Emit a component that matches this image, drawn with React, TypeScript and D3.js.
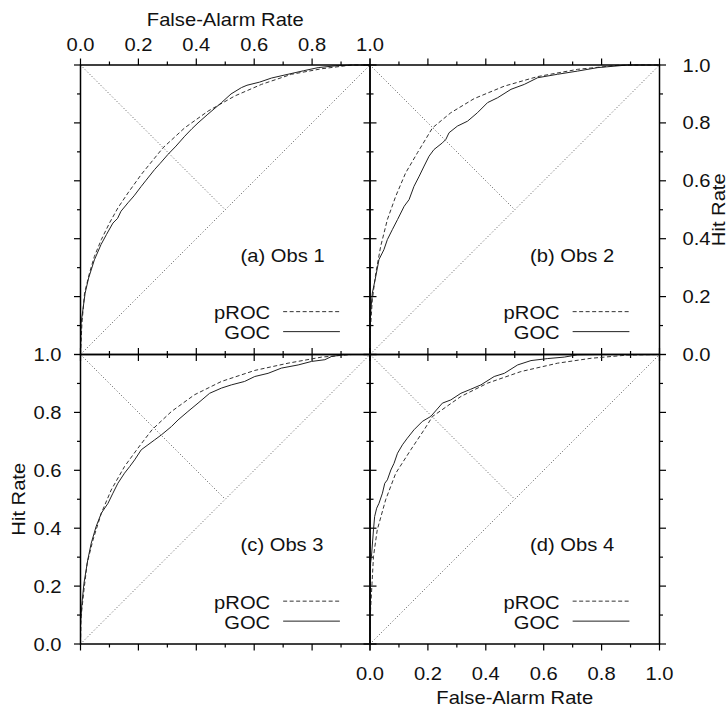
import * as d3 from "d3";

// ROC curves: [false-alarm rate, hit rate]
const procA: [number, number][] = [
  [0, 0], [0.005, 0.108], [0.014, 0.212], [0.031, 0.281], [0.048, 0.339], [0.072, 0.397],
  [0.1, 0.454], [0.129, 0.506], [0.164, 0.558], [0.21, 0.622], [0.285, 0.714], [0.36, 0.783],
  [0.441, 0.841], [0.533, 0.893], [0.625, 0.933], [0.729, 0.968], [0.833, 0.987], [0.937, 1.0], [1, 1],
];
const gocA: [number, number][] = [
  [0, 0], [0.002, 0.108], [0.016, 0.212], [0.028, 0.264], [0.048, 0.327], [0.071, 0.38],
  [0.09, 0.415], [0.112, 0.454], [0.128, 0.47], [0.14, 0.495], [0.164, 0.524], [0.185, 0.548],
  [0.21, 0.581], [0.225, 0.6], [0.256, 0.639], [0.275, 0.66], [0.302, 0.691], [0.33, 0.72],
  [0.36, 0.754], [0.385, 0.78], [0.406, 0.8], [0.44, 0.83], [0.487, 0.87], [0.52, 0.9],
  [0.556, 0.922], [0.575, 0.93], [0.619, 0.941], [0.66, 0.955], [0.717, 0.968], [0.77, 0.98],
  [0.821, 0.991], [0.88, 0.997], [0.937, 1.0], [1, 1],
];
const procB: [number, number][] = [
  [0, 0], [0.002, 0.097], [0.008, 0.189], [0.02, 0.281], [0.037, 0.374], [0.06, 0.466],
  [0.089, 0.547], [0.123, 0.627], [0.164, 0.697], [0.216, 0.783], [0.279, 0.835], [0.36, 0.884],
  [0.464, 0.927], [0.579, 0.96], [0.717, 0.985], [0.856, 0.999], [0.937, 1.0], [1, 1],
];
const gocB: [number, number][] = [
  [0, 0], [0, 0.097], [0.002, 0.143], [0.008, 0.212], [0.02, 0.27], [0.031, 0.328],
  [0.048, 0.362], [0.06, 0.397], [0.077, 0.431], [0.095, 0.466], [0.118, 0.512], [0.135, 0.535],
  [0.152, 0.581], [0.17, 0.616], [0.187, 0.651], [0.204, 0.685], [0.221, 0.708], [0.25, 0.731],
  [0.262, 0.743], [0.273, 0.766], [0.302, 0.789], [0.337, 0.806], [0.371, 0.835], [0.406, 0.87],
  [0.441, 0.887], [0.487, 0.916], [0.533, 0.933], [0.579, 0.956], [0.648, 0.968], [0.717, 0.979],
  [0.787, 0.991], [0.89, 1.0], [1, 1],
];
const procC: [number, number][] = [
  [0, 0], [0.002, 0.094], [0.012, 0.187], [0.023, 0.279], [0.043, 0.359], [0.072, 0.452],
  [0.106, 0.532], [0.152, 0.613], [0.198, 0.676], [0.247, 0.74], [0.314, 0.803], [0.394, 0.861],
  [0.487, 0.907], [0.602, 0.945], [0.717, 0.97], [0.833, 0.991], [0.937, 1.0], [1, 1],
];
const gocC: [number, number][] = [
  [0, 0], [0, 0.071], [0.005, 0.141], [0.012, 0.21], [0.025, 0.29], [0.037, 0.348],
  [0.054, 0.406], [0.072, 0.452], [0.095, 0.486], [0.112, 0.521], [0.129, 0.555], [0.152, 0.59],
  [0.17, 0.613], [0.187, 0.636], [0.21, 0.671], [0.233, 0.688], [0.256, 0.705], [0.279, 0.722],
  [0.314, 0.751], [0.337, 0.774], [0.371, 0.803], [0.406, 0.832], [0.446, 0.866], [0.487, 0.884],
  [0.521, 0.895], [0.567, 0.907], [0.602, 0.924], [0.648, 0.935], [0.694, 0.953], [0.752, 0.964],
  [0.798, 0.976], [0.844, 0.982], [0.867, 0.993], [0.913, 1.0], [1, 1],
];
const procD: [number, number][] = [
  [0, 0], [0.002, 0.118], [0.007, 0.21], [0.012, 0.302], [0.025, 0.394], [0.054, 0.498],
  [0.089, 0.59], [0.141, 0.671], [0.187, 0.74], [0.216, 0.786], [0.314, 0.855], [0.406, 0.901],
  [0.521, 0.941], [0.648, 0.97], [0.764, 0.987], [0.89, 0.998], [1, 1],
];
const gocD: [number, number][] = [
  [0, 0], [0, 0.141], [0.002, 0.279], [0.005, 0.302], [0.012, 0.394], [0.016, 0.44],
  [0.023, 0.469], [0.031, 0.486], [0.043, 0.521], [0.051, 0.555], [0.06, 0.567], [0.072, 0.601],
  [0.083, 0.624], [0.095, 0.659], [0.112, 0.688], [0.129, 0.711], [0.152, 0.74], [0.181, 0.769],
  [0.21, 0.786], [0.25, 0.832], [0.279, 0.843], [0.314, 0.866], [0.348, 0.88], [0.383, 0.895],
  [0.429, 0.924], [0.464, 0.935], [0.51, 0.964], [0.556, 0.979], [0.614, 0.986], [0.671, 0.991],
  [0.717, 0.999], [0.787, 1.0], [1, 1],
];

const panelLabels = ["(a) Obs 1", "(b) Obs 2", "(c) Obs 3", "(d) Obs 4"];
const legendNames = ["pROC", "GOC"];
const tickValues = [0, 0.1, 0.2, 0.3, 0.4, 0.5, 0.6, 0.7, 0.8, 0.9, 1.0];
const xTitle = "False-Alarm Rate";
const yTitle = "Hit Rate";

const WIDTH = 728;
const HEIGHT = 707;
const PW = 289.5;
const COLS = [80.5, 370];
const ROWS = [65, 354.5];
const FONT = "'Liberation Sans', Arial, Helvetica, sans-serif";
const STRETCH = 1.12; // the original lettering is a bit wider than Arial

const panels = [
  { label: panelLabels[0], proc: procA, goc: gocA, col: 0, row: 0, axis: "top" },
  { label: panelLabels[1], proc: procB, goc: gocB, col: 1, row: 0, axis: "right" },
  { label: panelLabels[2], proc: procC, goc: gocC, col: 0, row: 1, axis: "left" },
  { label: panelLabels[3], proc: procD, goc: gocD, col: 1, row: 1, axis: "bottom" },
];

const fmt = d3.format(".1f");

// text drawn a little wider, as in the reference
const T = ({ x, y, anchor = "start", size = 18, rotate = 0, children }: any) => (
  <text
    transform={`translate(${x},${y}) rotate(${rotate}) scale(${STRETCH},1)`}
    textAnchor={anchor}
    fontFamily={FONT}
    fontSize={size}
    fill="#111"
  >
    {children}
  </text>
);

const Panel = ({ p }: { p: (typeof panels)[number] }) => {
  const x0 = COLS[p.col];
  const y0 = ROWS[p.row];
  const x = d3.scaleLinear().domain([0, 1]).range([x0, x0 + PW]);
  const y = d3.scaleLinear().domain([0, 1]).range([y0 + PW, y0]);
  const line = d3.line<[number, number]>().x((d) => x(d[0])).y((d) => y(d[1]));

  const ticks: any[] = [];
  tickValues.forEach((v, i) => {
    const len = i % 2 === 0 ? 6.5 : 3.5;
    const tx = x(v);
    const ty = y(v);
    ticks.push(
      <line key={`t${i}`} x1={tx} x2={tx} y1={y(1)} y2={y(1) - len} />,
      <line key={`b${i}`} x1={tx} x2={tx} y1={y(0)} y2={y(0) + len} />,
      <line key={`l${i}`} x1={x(0)} x2={x(0) - len} y1={ty} y2={ty} />,
      <line key={`r${i}`} x1={x(1)} x2={x(1) + len} y1={ty} y2={ty} />
    );
  });

  const labels: any[] = [];
  tickValues.forEach((v, i) => {
    if (i % 2 !== 0) return;
    if (p.axis === "top") labels.push(<T key={i} x={x(v)} y={y(1) - 14} anchor="middle">{fmt(v)}</T>);
    if (p.axis === "bottom") labels.push(<T key={i} x={x(v)} y={y(0) + 36} anchor="middle">{fmt(v)}</T>);
    if (p.axis === "left") labels.push(<T key={i} x={x(0) - 19} y={y(v) + 6.5} anchor="end">{fmt(v)}</T>);
    if (p.axis === "right") labels.push(<T key={i} x={x(1) + 23} y={y(v) + 6.5}>{fmt(v)}</T>);
  });

  const cx = (x(0) + x(1)) / 2;
  const cy = (y(0) + y(1)) / 2;

  return (
    <g>
      <g stroke="#555" strokeWidth={1} strokeDasharray="1,2.2" fill="none">
        <line x1={x(0)} y1={y(0)} x2={x(1)} y2={y(1)} />
        <line x1={x(0)} y1={y(1)} x2={x(0.5)} y2={y(0.5)} />
      </g>
      <path d={line(p.proc) ?? ""} fill="none" stroke="#333" strokeWidth={1} strokeDasharray="4,2.5" />
      <path d={line(p.goc) ?? ""} fill="none" stroke="#222" strokeWidth={1} />
      <rect x={x(0)} y={y(1)} width={PW} height={PW} fill="none" stroke="#000" strokeWidth={1.5} />
      <g stroke="#000" strokeWidth={1.2}>{ticks}</g>
      {labels}
      <T x={x(0.553)} y={y(0.32)}>{p.label}</T>
      <T x={x(0.655)} y={y(0.122)} anchor="end">{legendNames[0]}</T>
      <T x={x(0.655)} y={y(0.053)} anchor="end">{legendNames[1]}</T>
      <line x1={x(0.7)} x2={x(0.896)} y1={y(0.148)} y2={y(0.148)} stroke="#333" strokeWidth={1} strokeDasharray="4,2.5" />
      <line x1={x(0.7)} x2={x(0.896)} y1={y(0.079)} y2={y(0.079)} stroke="#222" strokeWidth={1} />
      {p.axis === "top" && <T x={cx} y={26} anchor="middle">{xTitle}</T>}
      {p.axis === "bottom" && <T x={cx} y={704} anchor="middle">{xTitle}</T>}
      {p.axis === "left" && <T x={25} y={cy} anchor="middle" rotate={-90}>{yTitle}</T>}
      {p.axis === "right" && <T x={725} y={cy} anchor="middle" rotate={-90}>{yTitle}</T>}
    </g>
  );
};

export default function App() {
  return (
    <svg
      width={WIDTH}
      height={HEIGHT}
      style={{ position: "absolute", left: 0, top: 0, background: "#fff" }}
    >
      <rect width={WIDTH} height={HEIGHT} fill="#fff" />
      {panels.map((p) => (
        <Panel key={p.label} p={p} />
      ))}
    </svg>
  );
}
